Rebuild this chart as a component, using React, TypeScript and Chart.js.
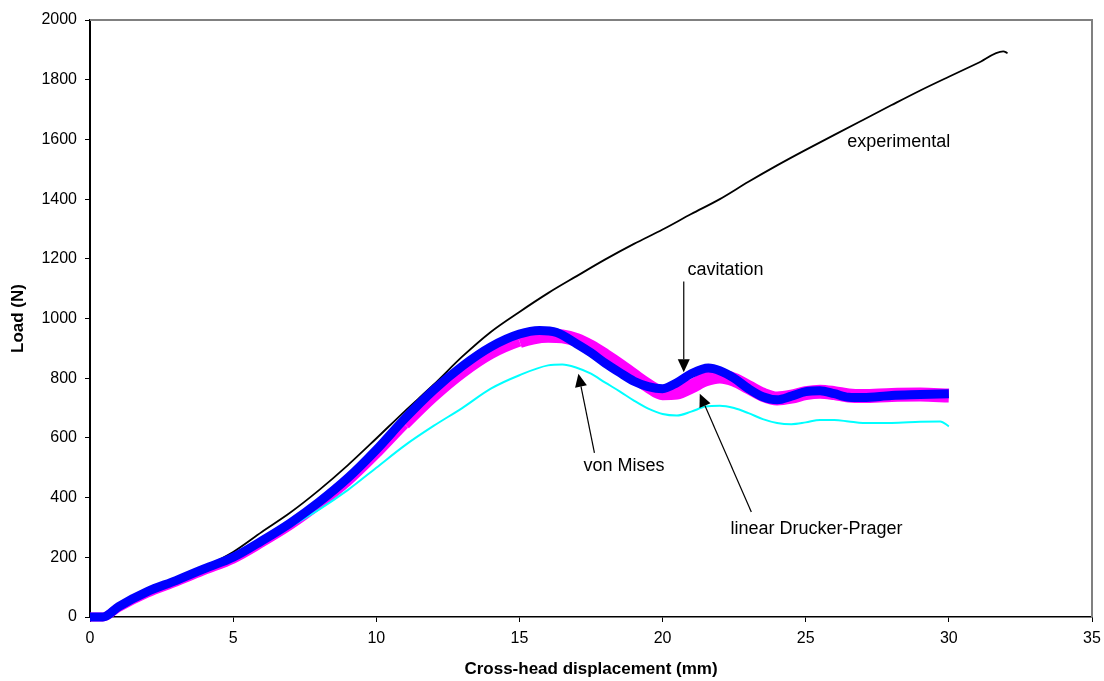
import React, { useEffect, useRef } from "react";
import { Chart, registerables } from "chart.js";

Chart.register(...registerables);

// ---- Data ----
const experimentalDisp = [0, 0.4, 1, 2, 3, 4, 5, 6, 7, 8, 9, 10, 11, 12, 13, 14, 15, 16, 17, 18, 19, 20, 21, 22, 23, 24, 25, 26, 27, 28, 29, 30, 31, 31.9, 32.05];
const experimentalLoad = [0, 0, 38, 88, 126, 168, 218, 285, 350, 425, 508, 598, 690, 778, 872, 955, 1022, 1085, 1142, 1198, 1250, 1298, 1350, 1400, 1458, 1513, 1565, 1615, 1665, 1715, 1764, 1810, 1855, 1895, 1889];

const cavitationDisp = [0, 0.45, 1, 2, 3, 4, 5, 6, 7, 8, 9, 10, 11, 12, 13, 14, 15, 15.7, 16.3, 17, 17.5, 18, 18.5, 19, 19.5, 20, 20.5, 21, 21.6, 22, 22.5, 23, 23.5, 24, 24.5, 25, 25.5, 26, 26.5, 27, 28, 29, 30];
const cavitationLoad = [0, 0, 35, 85, 122, 162, 200, 255, 315, 385, 465, 560, 665, 760, 840, 905, 948, 960, 953, 915, 885, 850, 819, 790, 772, 765, 785, 815, 834, 825, 800, 765, 738, 728, 740, 755, 758, 748, 736, 735, 742, 745, 748];

const druckerDisp = [0, 0.45, 1, 2, 3, 4, 5, 6, 7, 8, 9, 10, 11, 12, 13, 14, 15, 15.5, 16, 16.5, 17, 17.5, 18, 18.5, 19, 19.5, 20, 20.5, 21, 21.5, 22, 22.5, 23, 23.5, 24, 24.5, 25, 25.5, 26, 26.5, 27, 28, 29, 30];
const druckerLoad = [0, 0, 32, 80, 117, 156, 194, 248, 307, 376, 453, 545, 645, 738, 818, 882, 924, 937, 942, 940, 928, 905, 875, 843, 808, 775, 750, 752, 772, 796, 806, 795, 770, 745, 732, 738, 750, 755, 750, 742, 740, 744, 745, 742];

const vonMisesDisp = [0, 0.45, 1, 2, 3, 4, 5, 6, 7, 8, 9, 10, 11, 12, 13, 14, 15, 16, 16.5, 17, 17.5, 18, 18.5, 19, 19.5, 20, 20.5, 21, 21.5, 22, 22.5, 23, 23.5, 24, 24.5, 25, 25.5, 26, 26.5, 27, 28, 29, 29.7, 30];
const vonMisesLoad = [0, 0, 35, 82, 118, 158, 197, 250, 303, 360, 425, 500, 575, 640, 700, 765, 810, 843, 846, 835, 815, 785, 756, 725, 698, 680, 675, 688, 705, 708, 700, 683, 663, 650, 646, 652, 660, 660, 655, 650, 650, 654, 655, 639];

const xTickMin = 0, xTickMax = 35, xTickStep = 5;
const yTickMin = 0, yTickMax = 2000, yTickStep = 200;

// Annotation labels (data coordinates)
const labelTexts = ["experimental", "cavitation", "von Mises", "linear Drucker-Prager"];
const labelDisp = [26.45, 20.87, 17.24, 22.37];
const labelLoad = [1591, 1161, 507, 295];

// Arrows: from (tail) -> to (head), data coordinates
const arrowFromDisp = [20.74, 17.62, 23.1];
const arrowFromLoad = [1124, 550, 352];
const arrowToDisp = [20.74, 17.06, 21.3];
const arrowToLoad = [820, 815, 748];

const FONT = "'Liberation Sans', Arial, Helvetica, sans-serif";

const pts = (xs: number[], ys: number[]) => xs.map((x, i) => ({ x, y: ys[i] }));

const overlayPlugin = {
  id: "overlay",
  beforeDatasetsDraw(chart: any) {
    const { ctx, chartArea } = chart;
    ctx.save();
    ctx.strokeStyle = "#808080";
    ctx.lineWidth = 2;
    ctx.beginPath();
    ctx.moveTo(chartArea.left, chartArea.top);
    ctx.lineTo(chartArea.right, chartArea.top);
    ctx.lineTo(chartArea.right, chartArea.bottom);
    ctx.stroke();
    ctx.restore();
  },
  afterDatasetsDraw(chart: any) {
    const { ctx, scales } = chart;
    const x = scales.x, y = scales.y;
    ctx.save();
    ctx.fillStyle = "#000";
    ctx.strokeStyle = "#000";
    ctx.font = `18px ${FONT}`;
    ctx.textBaseline = "middle";
    ctx.textAlign = "left";
    labelTexts.forEach((t, i) => {
      ctx.fillText(t, x.getPixelForValue(labelDisp[i]), y.getPixelForValue(labelLoad[i]));
    });
    ctx.lineWidth = 1.2;
    arrowFromDisp.forEach((_, i) => {
      const x1 = x.getPixelForValue(arrowFromDisp[i]);
      const y1 = y.getPixelForValue(arrowFromLoad[i]);
      const x2 = x.getPixelForValue(arrowToDisp[i]);
      const y2 = y.getPixelForValue(arrowToLoad[i]);
      const ang = Math.atan2(y2 - y1, x2 - x1);
      const len = 13, half = 6;
      const bx = x2 - len * Math.cos(ang), by = y2 - len * Math.sin(ang);
      ctx.beginPath();
      ctx.moveTo(x1, y1);
      ctx.lineTo(bx, by);
      ctx.stroke();
      ctx.beginPath();
      ctx.moveTo(x2, y2);
      ctx.lineTo(bx + half * Math.sin(ang), by - half * Math.cos(ang));
      ctx.lineTo(bx - half * Math.sin(ang), by + half * Math.cos(ang));
      ctx.closePath();
      ctx.fill();
    });
    ctx.restore();
  },
};

export default function App() {
  const canvasRef = useRef<HTMLCanvasElement | null>(null);

  useEffect(() => {
    document.body.style.margin = "0";
    const canvas = canvasRef.current;
    if (!canvas) return;
    const chart = new Chart(canvas, {
      type: "line",
      data: {
        datasets: [
          {
            label: "cavitation",
            data: pts(cavitationDisp, cavitationLoad),
            borderColor: "#0000FF",
            borderWidth: 9,
            pointRadius: 0,
            cubicInterpolationMode: "monotone",
            borderJoinStyle: "round",
            clip: false,
          },
          {
            label: "experimental",
            data: pts(experimentalDisp, experimentalLoad),
            borderColor: "#000000",
            borderWidth: 1.8,
            pointRadius: 0,
            cubicInterpolationMode: "monotone",
            clip: false,
          },
          {
            label: "von Mises",
            data: pts(vonMisesDisp, vonMisesLoad),
            borderColor: "#00FFFF",
            borderWidth: 2,
            pointRadius: 0,
            cubicInterpolationMode: "monotone",
            clip: false,
          },
          {
            label: "linear Drucker-Prager",
            data: pts(druckerDisp, druckerLoad),
            borderColor: "#FF00FF",
            borderWidth: 9,
            borderJoinStyle: "round",
            pointRadius: 0,
            cubicInterpolationMode: "monotone",
            clip: false,
            segment: {
              borderWidth: (c: any) => {
                const xv = c.p0.parsed.x;
                if (xv < 11) return 9;
                if (xv < 15) return 11;
                return 14;
              },
            },
          },
        ],
      } as any,
      options: {
        responsive: false,
        animation: false,
        layout: { padding: { top: 20, right: 12, left: 0, bottom: 0 } },
        plugins: { legend: { display: false }, tooltip: { enabled: false } },
        scales: {
          x: {
            type: "linear",
            min: xTickMin,
            max: xTickMax,
            ticks: { stepSize: xTickStep, color: "#000", font: { family: FONT, size: 16 }, padding: 7, callback: (v: any) => String(v) },
            grid: { display: true, drawOnChartArea: false, drawTicks: true, tickLength: 5, color: "#000" },
            border: { display: true, color: "#000", width: 1.5 },
            title: {
              display: true,
              text: "Cross-head displacement (mm)",
              color: "#000",
              font: { family: FONT, size: 17, weight: "bold" },
              padding: { top: 0, bottom: 1 },
            },
            afterFit: (s: any) => { s.height = 64; s.paddingLeft = 0; s.paddingRight = 0; },
          },
          y: {
            type: "linear",
            min: yTickMin,
            max: yTickMax,
            ticks: { stepSize: yTickStep, color: "#000", font: { family: FONT, size: 16 }, padding: 8, callback: (v: any) => String(v) },
            grid: { display: true, drawOnChartArea: false, drawTicks: true, tickLength: 5, color: "#000" },
            border: { display: true, color: "#000", width: 2 },
            title: {
              display: true,
              text: "Load (N)",
              color: "#000",
              font: { family: FONT, size: 17, weight: "bold" },
              padding: { top: 8, bottom: 0 },
            },
            afterFit: (s: any) => { s.width = 90; s.paddingTop = 0; s.paddingBottom = 0; },
          },
        },
      } as any,
      plugins: [overlayPlugin],
    });
    return () => chart.destroy();
  }, []);

  return (
    <div style={{ position: "absolute", left: 0, top: 0, width: 1104, height: 681, background: "#fff" }}>
      <canvas ref={canvasRef} width={1104} height={681} style={{ display: "block" }} />
    </div>
  );
}
